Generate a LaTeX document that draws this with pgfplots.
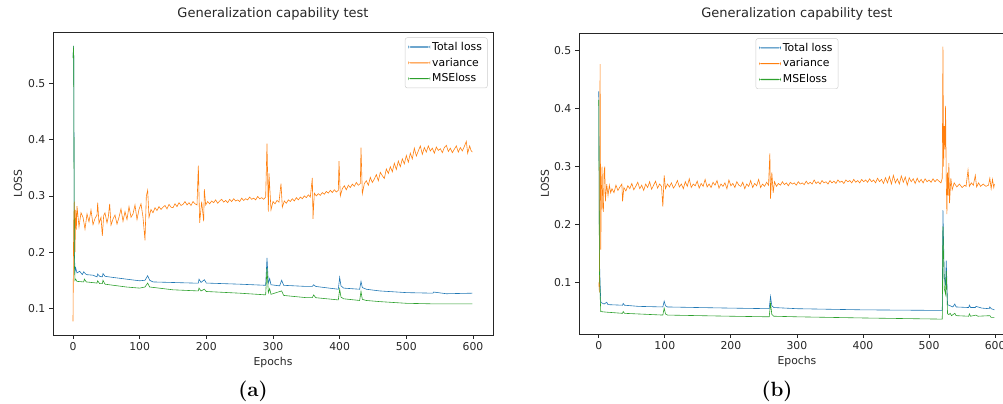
\documentclass[border=0pt]{standalone}
\usepackage{fontspec}
\setsansfont{DejaVu Sans}
\usepackage{pgfplots}
\pgfplotsset{compat=1.18}

\definecolor{mplblue}{HTML}{1F77B4}
\definecolor{mplorange}{HTML}{FF7F0E}
\definecolor{mplgreen}{HTML}{2CA02C}

\pgfplotsset{
  lossaxis/.style={
    scale only axis,
    xmin=-30, xmax=630,
    xtick={0,100,...,600},
    ytick={0.1,0.2,0.3,0.4,0.5},
    tick pos=left,
    tick align=outside,
    major tick length=3.5pt,
    every tick/.style={black!85, line width=0.8pt},
    axis line style={black!85, line width=0.8pt},
    /pgf/number format/assume math mode=true,
    /pgf/number format/fixed,
    /pgf/number format/precision=1,
    tick label style={font=\sffamily\fontsize{10}{12}\selectfont, text=black!85},
    label style={font=\sffamily\fontsize{10}{12}\selectfont, text=black!85},
    title style={font=\sffamily\fontsize{12}{14}\selectfont, text=black!85, at={(0.5,1.04)}, anchor=center},
    xlabel={Epochs},
    ylabel={LOSS},
    title={Generalization capability test},
    no markers,
    every axis plot/.append style={line width=0.55pt},
    legend cell align=left,
    legend image code/.code={\fill[#1, draw=none] (0pt,-0.5pt) rectangle (20pt,0.5pt);},
    legend style={font=\sffamily\fontsize{10}{12}\selectfont, draw=black!20, rounded corners=2pt,
      fill=white, inner xsep=3pt, inner ysep=2pt, row sep=1.5pt},
  }
}

\begin{document}
\begin{tikzpicture}
\useasboundingbox (0,0) rectangle (925.3pt,371.8pt);
\clip (0,0) rectangle (925.3pt,371.8pt);

% ---------- (a) ----------
\begin{axis}[lossaxis,
  at={(48.9pt,62.7pt)}, anchor=south west,
  width=405.9pt, height=279.5pt,
  ymin=0.0525, ymax=0.5915,
  xlabel style={at={(axis description cs:0.5,-0.089)}, anchor=center},
  ylabel style={at={(axis description cs:-0.0795,0.5)}, anchor=center},
  legend style={at={(1,1)}, xshift=-5pt, yshift=-5pt, anchor=north east},
]
\addplot[mplblue] coordinates {
(0,0.548) (1,0.567) (2,0.20) (3,0.165) (4,0.172) (6,0.163) (10,0.166) (14,0.160) (16,0.165)
(20,0.160) (30,0.159) (36,0.156) (37,0.161) (40,0.157) (44,0.156) (45,0.162) (48,0.157)
(60,0.155) (80,0.152) (100,0.149) (108,0.150) (112,0.158) (115,0.150) (120,0.147)
(150,0.146) (180,0.145) (188,0.145) (189,0.152) (192,0.146) (197,0.151) (200,0.145)
(250,0.143) (289,0.141) (291,0.190) (293,0.145) (295,0.153) (297,0.142) (310,0.140)
(313,0.150) (316,0.141) (350,0.139) (359,0.139) (361,0.142) (364,0.139) (398,0.134)
(400,0.155) (402,0.140) (406,0.136) (430,0.134) (432,0.148) (434,0.137) (440,0.134)
(460,0.131) (500,0.128) (540,0.127) (541,0.129) (560,0.126) (599,0.127)
};
\addlegendentry{Total loss}
\addplot[mplorange] coordinates {
(0,0.077) (1,0.25) (2,0.29) (3,0.20) (4,0.275) (5,0.24)
(6,0.282) (9,0.245) (12,0.270) (15,0.262) (18,0.241) (21,0.268) (24,0.254) (27,0.275)
(30,0.249) (33,0.260) (36,0.266) (37,0.288) (39,0.251) (42,0.262) (44,0.229) (46,0.265)
(48,0.270) (51,0.252) (53,0.263) (55,0.286) (57,0.248) (60,0.259) (63,0.266) (66,0.250)
(69,0.262) (72,0.277) (75,0.255) (78,0.272) (81,0.258) (84,0.281) (87,0.262) (90,0.268)
(93,0.284) (96,0.258) (99,0.276) (102,0.286) (105,0.262) (108,0.221) (110,0.300) (112,0.310)
(114,0.262) (117,0.276) (120,0.270) (123,0.279) (126,0.274) (129,0.281) (132,0.276)
(135,0.280) (138,0.283) (141,0.277) (144,0.285) (147,0.280) (150,0.279) (153,0.286)
(156,0.281) (159,0.288) (162,0.283) (165,0.285) (168,0.290) (171,0.284) (174,0.288)
(177,0.283) (180,0.290) (183,0.286) (186,0.284) (188,0.354) (190,0.252) (193,0.290)
(196,0.255) (197,0.312) (199,0.284) (202,0.290) (205,0.286) (208,0.291) (211,0.288)
(214,0.293) (217,0.287) (220,0.291) (223,0.294) (226,0.289) (229,0.292) (232,0.288)
(235,0.294) (238,0.290) (241,0.295) (244,0.291) (247,0.293) (250,0.290) (253,0.296)
(256,0.292) (259,0.295) (262,0.293) (265,0.298) (268,0.294) (271,0.296) (274,0.293)
(277,0.299) (280,0.295) (283,0.297) (286,0.294) (289,0.298) (291,0.393) (293,0.272)
(294,0.340) (297,0.275) (300,0.290) (303,0.286) (306,0.292) (309,0.289) (312,0.322)
(314,0.280) (317,0.291) (320,0.287) (323,0.293) (326,0.290) (329,0.295) (332,0.291)
(335,0.297) (338,0.293) (341,0.298) (344,0.295) (347,0.300) (350,0.297) (353,0.302)
(356,0.298) (359,0.332) (360,0.259) (362,0.305) (365,0.300) (368,0.304) (371,0.301)
(374,0.306) (377,0.303) (380,0.308) (383,0.305) (386,0.310) (389,0.306) (392,0.311)
(395,0.307) (398,0.310) (399,0.362) (401,0.300) (404,0.313) (407,0.318) (410,0.311)
(413,0.319) (416,0.315) (419,0.321) (422,0.317) (425,0.324) (428,0.319) (431,0.322)
(432,0.386) (434,0.304) (437,0.322) (440,0.327) (443,0.319) (446,0.333) (449,0.324)
(452,0.330) (455,0.338) (458,0.327) (461,0.342) (464,0.336) (467,0.331) (470,0.348)
(473,0.340) (476,0.352) (479,0.343) (482,0.358) (485,0.347) (488,0.362) (491,0.352)
(494,0.366) (497,0.357) (500,0.372) (503,0.360) (506,0.376) (509,0.366) (512,0.385)
(515,0.371) (518,0.380) (521,0.389) (524,0.374) (527,0.386) (530,0.378) (533,0.389)
(536,0.380) (539,0.385) (542,0.376) (545,0.387) (548,0.381) (551,0.384) (554,0.377)
(557,0.386) (560,0.390) (563,0.379) (566,0.385) (569,0.377) (572,0.383) (575,0.389)
(578,0.378) (581,0.386) (584,0.380) (587,0.388) (590,0.397) (592,0.376) (595,0.389)
(597,0.381) (599,0.378)
};
\addlegendentry{variance}
\addplot[mplgreen] coordinates {
(0,0.545) (1,0.567) (2,0.18) (3,0.150) (4,0.152) (6,0.148) (16,0.147) (17,0.152) (20,0.147)
(36,0.145) (37,0.149) (40,0.144) (44,0.144) (45,0.150) (48,0.143) (80,0.138) (100,0.136)
(108,0.138) (112,0.145) (115,0.138) (150,0.133) (188,0.131) (189,0.136) (192,0.131)
(197,0.134) (200,0.130) (250,0.127) (289,0.124) (291,0.172) (293,0.128) (295,0.135)
(297,0.125) (313,0.131) (316,0.123) (350,0.119) (359,0.119) (361,0.124) (364,0.119)
(398,0.115) (400,0.134) (402,0.120) (406,0.117) (430,0.114) (432,0.130) (434,0.116)
(440,0.114) (460,0.112) (500,0.109) (540,0.108) (599,0.108)
};
\addlegendentry{MSEloss}
\end{axis}

% ---------- (b) ----------
\begin{axis}[lossaxis,
  at={(534.1pt,63.7pt)}, anchor=south west,
  width=402.2pt, height=277.7pt,
  ymin=0.0114, ymax=0.5306,
  xlabel style={at={(axis description cs:0.5,-0.093)}, anchor=center},
  ylabel style={at={(axis description cs:-0.078,0.5)}, anchor=center},
  legend style={at={(0.5,1)}, yshift=-5pt, anchor=north},
]
\addplot[mplblue] coordinates {
(0,0.430) (1,0.140) (2,0.10) (3,0.066) (8,0.063) (12,0.066) (14,0.062) (36,0.061) (37,0.064)
(39,0.061) (60,0.059) (97,0.058) (99,0.068) (101,0.060) (104,0.058) (150,0.057) (200,0.056)
(258,0.055) (260,0.076) (262,0.060) (265,0.057) (300,0.055) (400,0.053) (520,0.052)
(521,0.225) (523,0.110) (525,0.095) (526,0.138) (528,0.062) (532,0.060) (536,0.058)
(539,0.063) (541,0.058) (560,0.057) (561,0.061) (563,0.057) (570,0.057) (571,0.059)
(574,0.058) (580,0.056) (591,0.055) (592,0.058) (594,0.055) (599,0.053)
};
\addlegendentry{Total loss}
\addplot[mplorange] coordinates {
(0,0.100) (1,0.083) (2,0.477) (3,0.157) (4,0.260) (5,0.300) (6,0.230) (7,0.222) (8,0.290)
(9,0.300) (10,0.240) (12,0.270) (14,0.250) (16,0.268) (18,0.255)
(20,0.262) (23,0.255) (26,0.268) (29,0.259) (32,0.265) (35,0.270) (36,0.240) (38,0.264)
(41,0.258) (44,0.267) (47,0.262) (50,0.271) (53,0.260) (56,0.266) (59,0.273) (62,0.262)
(65,0.268) (68,0.259) (71,0.270) (74,0.264) (77,0.274) (80,0.261) (83,0.268) (86,0.275)
(89,0.263) (92,0.270) (95,0.266) (97,0.231) (99,0.285) (101,0.262) (104,0.270) (107,0.265)
(110,0.272) (113,0.263) (116,0.268) (119,0.276) (122,0.265) (125,0.270) (128,0.262)
(131,0.274) (134,0.266) (137,0.279) (140,0.264) (143,0.270) (146,0.267) (149,0.275)
(152,0.263) (155,0.271) (158,0.266) (161,0.278) (164,0.265) (167,0.270) (170,0.264)
(173,0.273) (176,0.268) (179,0.276) (182,0.263) (185,0.270) (188,0.266) (191,0.272)
(194,0.262) (197,0.277) (200,0.267) (203,0.271) (206,0.264) (209,0.274) (212,0.268)
(215,0.266) (218,0.273) (221,0.262) (224,0.270) (227,0.266) (230,0.276) (233,0.264)
(236,0.271) (239,0.267) (242,0.278) (245,0.264) (248,0.270) (251,0.266) (254,0.273)
(257,0.268) (259,0.323) (260,0.245) (262,0.290) (264,0.255) (266,0.274) (269,0.266)
(272,0.271) (275,0.268) (278,0.274) (281,0.269) (284,0.272) (287,0.267) (290,0.273)
(293,0.270) (296,0.272) (299,0.268) (302,0.274) (305,0.270) (308,0.272) (311,0.269)
(314,0.275) (317,0.270) (320,0.273) (323,0.270) (326,0.277) (329,0.271) (332,0.274)
(335,0.270) (338,0.276) (341,0.272) (344,0.274) (347,0.270) (350,0.276) (353,0.272)
(356,0.275) (359,0.271) (362,0.277) (365,0.273) (368,0.275) (371,0.271) (374,0.277)
(377,0.274) (380,0.276) (383,0.272) (386,0.278) (389,0.273) (392,0.276) (395,0.272)
(398,0.278) (401,0.274) (404,0.277) (407,0.273) (410,0.279) (413,0.274) (416,0.277)
(419,0.272) (422,0.280) (425,0.274) (428,0.278) (431,0.271) (434,0.281) (437,0.272)
(440,0.283) (443,0.270) (446,0.285) (449,0.272) (452,0.279) (455,0.270) (458,0.284)
(461,0.273) (464,0.282) (467,0.268) (470,0.281) (473,0.274) (476,0.279) (479,0.271)
(482,0.280) (485,0.273) (488,0.278) (491,0.272) (494,0.279) (497,0.274) (500,0.277)
(503,0.273) (506,0.279) (509,0.274) (512,0.278) (515,0.275) (518,0.272)
(520,0.280) (521,0.507) (522,0.300) (523,0.370) (524,0.330) (525,0.405) (526,0.280)
(527,0.218) (528,0.290) (529,0.250) (530,0.306) (531,0.237) (533,0.280) (535,0.260)
(538,0.272) (542,0.265) (546,0.270) (550,0.264) (554,0.268) (556,0.266) (559,0.294)
(561,0.266) (564,0.272) (567,0.268) (570,0.285) (572,0.265) (575,0.272) (578,0.266)
(582,0.270) (586,0.266) (590,0.268) (592,0.280) (594,0.262) (596,0.278) (598,0.264)
(599,0.270)
};
\addlegendentry{variance}
\addplot[mplgreen] coordinates {
(0,0.415) (1,0.120) (2,0.080) (3,0.050) (12,0.049) (36,0.047) (37,0.050) (39,0.047)
(97,0.044) (99,0.056) (101,0.046) (104,0.044) (200,0.042) (258,0.041) (260,0.064)
(262,0.045) (265,0.042) (300,0.041) (400,0.039) (520,0.037) (521,0.197) (523,0.090)
(525,0.080) (526,0.120) (528,0.046) (530,0.045) (532,0.047) (534,0.043) (539,0.047)
(541,0.043) (560,0.042) (561,0.046) (563,0.042) (571,0.044) (574,0.042) (592,0.043)
(594,0.040) (599,0.040)
};
\addlegendentry{MSEloss}
\end{axis}

\node[font=\rmfamily\bfseries\fontsize{19}{22}\selectfont] at (233.4pt,11.1pt) {(a)};
\node[font=\rmfamily\bfseries\fontsize{19}{22}\selectfont] at (716.8pt,11.1pt) {(b)};
\end{tikzpicture}
\end{document}
